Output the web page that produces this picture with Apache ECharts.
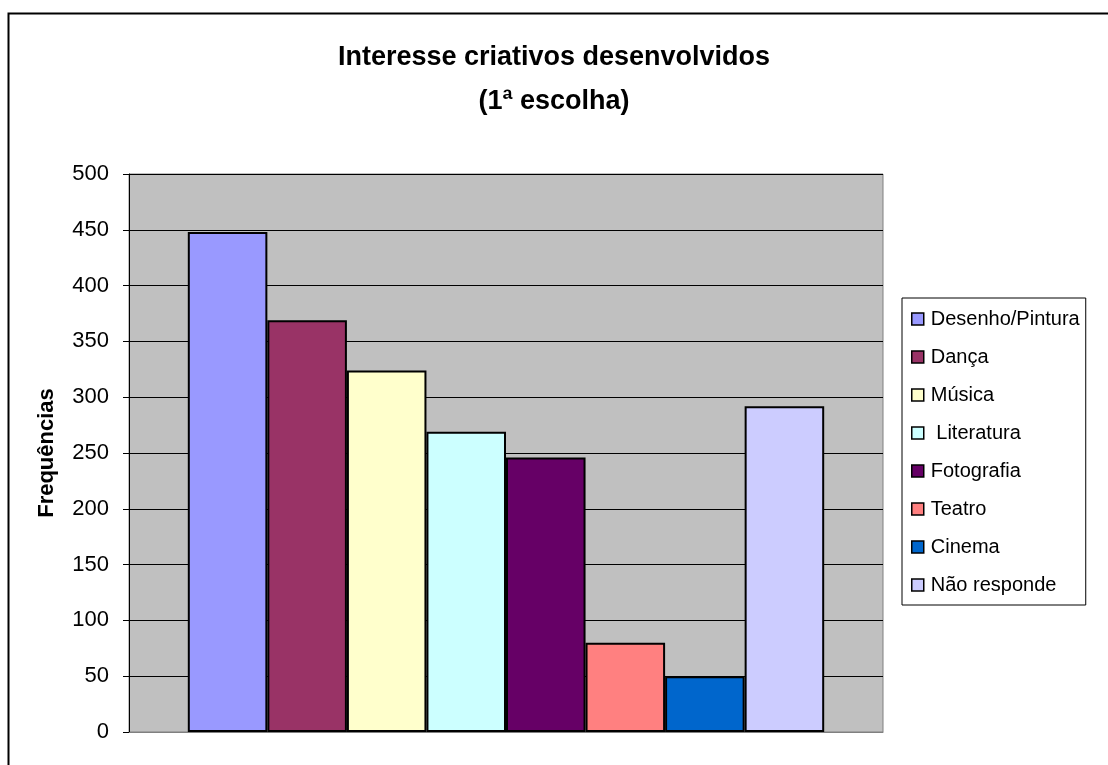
<!DOCTYPE html>
<html><head><meta charset="utf-8">
<script src="https://cdn.jsdelivr.net/npm/echarts@6/dist/echarts.min.js"></script>
<style>html,body{margin:0;padding:0;background:#fff}#c{width:1108px;height:765px}</style>
</head><body><div id="c"></div>
<script>
const seriesNames = ['Desenho/Pintura', 'Dança', 'Música', ' Literatura', 'Fotografia', 'Teatro', 'Cinema', 'Não responde'];
const seriesValues = [448, 369, 324, 269, 246, 80, 50, 292];
const seriesColors = ['#9999FF', '#993366', '#FFFFCC', '#CCFFFF', '#660066', '#FF8080', '#0066CC', '#CCCCFF'];
const yTicks = [0, 50, 100, 150, 200, 250, 300, 350, 400, 450, 500];
const categories = [''];

const chart = echarts.init(document.getElementById('c'), null, {renderer: 'canvas'});
const font = 'Liberation Sans, Arial, sans-serif';
chart.setOption({
  animation: false,
  backgroundColor: '#fff',
  textStyle: {fontFamily: font},
  title: {
    text: 'Interesse criativos desenvolvidos\n(1ª escolha)',
    left: 549, top: 31, textAlign: 'center',
    textStyle: {fontFamily: font, fontSize: 27, fontWeight: 'bold', color: '#000', lineHeight: 44}
  },
  graphic: [{
    type: 'rect', left: 6, top: 11, z: -10,
    shape: {width: 1120, height: 780},
    style: {fill: 'none', stroke: '#000', lineWidth: 2}
  }],
  legend: {
    orient: 'vertical', left: 902, top: 298,
    backgroundColor: '#fff', borderColor: '#000', borderWidth: 1,
    padding: [11, 6, 10, 9],
    itemWidth: 12, itemHeight: 12, itemGap: 18,
    icon: 'rect',
    textStyle: {fontFamily: font, fontSize: 20, color: '#000', lineHeight: 20, padding: [0, 0, 0, 2]},
    data: seriesNames.map(n => ({name: n, itemStyle: {borderColor: '#000', borderWidth: 1.5}}))
  },
  grid: {left: 129, top: 174, right: 225, bottom: 33, show: true, backgroundColor: '#C0C0C0', borderColor: '#808080', borderWidth: 1},
  xAxis: {
    type: 'category', data: categories,
    axisLine: {show: true, lineStyle: {color: '#808080'}},
    axisTick: {show: false}, axisLabel: {show: false}
  },
  yAxis: {
    type: 'value', min: yTicks[0], max: yTicks[yTicks.length - 1], interval: 50,
    name: 'Frequências', nameLocation: 'middle', nameGap: 71, nameRotate: 90,
    nameTextStyle: {fontFamily: font, fontSize: 22, fontWeight: 'bold', color: '#000'},
    axisLine: {show: true, lineStyle: {color: '#000', width: 1}},
    axisTick: {show: true, length: 6, lineStyle: {color: '#000'}},
    axisLabel: {fontFamily: font, fontSize: 22, color: '#000', margin: 20},
    splitLine: {show: true, lineStyle: {color: '#000', width: 1}}
  },
  series: seriesNames.map((n, i) => ({
    name: n, type: 'bar', data: [seriesValues[i]],
    barGap: '0%', barCategoryGap: '15.6%',
    itemStyle: {color: seriesColors[i], borderColor: '#000', borderWidth: 2}
  }))
});
</script></body></html>
